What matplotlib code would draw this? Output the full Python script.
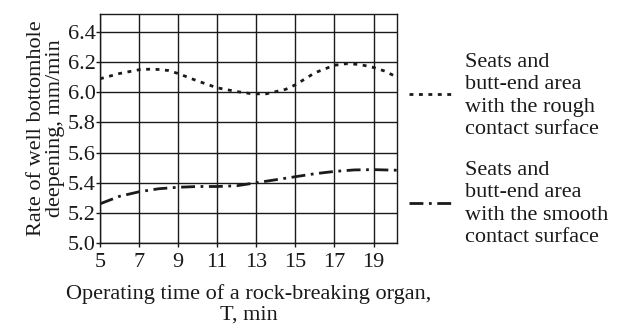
import numpy as np
import matplotlib
matplotlib.use('Agg')
import matplotlib.pyplot as plt

plt.rcParams['font.family'] = ['Liberation Serif', 'DejaVu Serif']

# operating time, min
t_rough = [5, 6, 7, 7.7, 8.5, 9, 10, 11, 12, 12.8, 13.5, 14.5, 15, 16, 17, 17.6, 18.3, 19, 19.6, 20.2]
v_rough = [6.09, 6.125, 6.15, 6.155, 6.145, 6.125, 6.075, 6.03, 6.005, 5.99, 5.99, 6.02, 6.05, 6.13, 6.18, 6.19, 6.185, 6.165, 6.14, 6.10]

t_smooth = [5, 6, 7, 8, 9, 10, 11, 12, 13, 14, 15, 16, 17, 18, 19, 20.2]
v_smooth = [5.26, 5.31, 5.34, 5.36, 5.37, 5.375, 5.375, 5.38, 5.40, 5.42, 5.44, 5.46, 5.475, 5.485, 5.487, 5.483]

x_ticks = [5, 7, 9, 11, 13, 15, 17, 19]
y_ticks = [5.0, 5.2, 5.4, 5.6, 5.8, 6.0, 6.2, 6.4]

label_rough = 'Seats and\nbutt-end area\nwith the rough\ncontact surface'
label_smooth = 'Seats and\nbutt-end area\nwith the smooth\ncontact surface'

fs = 16
ink = '#1a1a1a'

fig = plt.figure(figsize=(6.18, 3.25), dpi=100)
ax = fig.add_axes([100 / 618, 1 - 243 / 325, 297 / 618, 229 / 325])

ax.plot(t_rough, v_rough, color=ink, lw=2.0, dashes=(1.4, 2.0))
ax.plot(t_smooth, v_smooth, color=ink, lw=2.0, dashes=(5, 2, 1, 2))

ax.set_xlim(5, 20.2)
ax.set_ylim(5.0, 6.52)
ax.set_xticks(x_ticks)
ax.set_yticks(y_ticks)
ax.set_yticklabels([f'{v:.1f}' for v in y_ticks])
ax.grid(True, color=ink, lw=1.0)
for s in ax.spines.values():
    s.set_color(ink)
    s.set_linewidth(1.0)
ax.tick_params(labelsize=fs, length=3, width=1, color=ink, labelcolor=ink)
ax.tick_params(axis='y', pad=0)
ax.tick_params(axis='x', pad=4)

ax.set_ylabel('Rate of well bottomhole\ndeepening, mm/min', fontsize=fs, color=ink, linespacing=1.0, labelpad=2)
ax.set_xlabel('Operating time of a rock-breaking organ,\nT, min', fontsize=fs, color=ink, linespacing=1.1, labelpad=9)

# legend drawn by hand on the right
fig.add_artist(plt.Line2D([409 / 618, 456 / 618], [1 - 94 / 325, 1 - 94 / 325],
                          color=ink, lw=2.0, dashes=(1.4, 2.0)))
fig.add_artist(plt.Line2D([409 / 618, 456 / 618], [1 - 203 / 325, 1 - 203 / 325],
                          color=ink, lw=2.0, dashes=(5, 2, 1, 2)))
fig.text(465 / 618, 1 - 96 / 325, label_rough, fontsize=fs, color=ink,
         va='center', ha='left', linespacing=1.25)
fig.text(465 / 618, 1 - 204 / 325, label_smooth, fontsize=fs, color=ink,
         va='center', ha='left', linespacing=1.25)

fig.savefig('out.png', dpi=100)
